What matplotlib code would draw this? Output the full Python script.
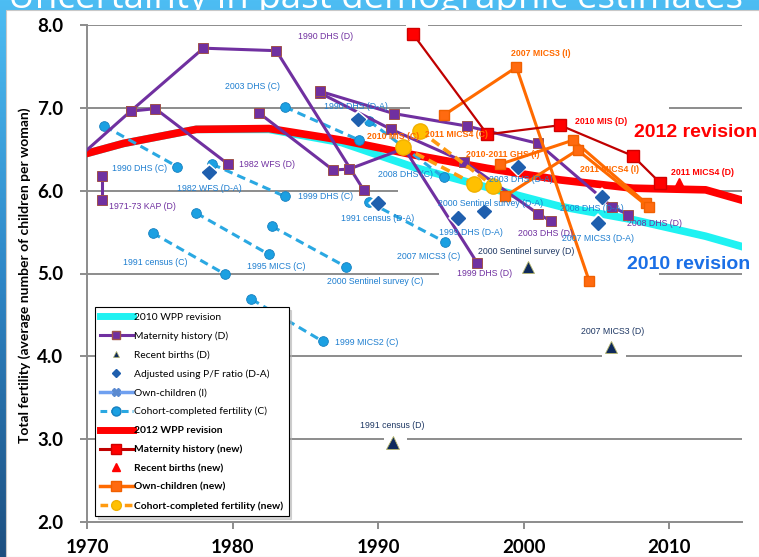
import matplotlib
matplotlib.use("Agg")
import matplotlib.pyplot as plt
import matplotlib.patheffects as pe
import numpy as np
from matplotlib.colors import LinearSegmentedColormap
from matplotlib.lines import Line2D
from matplotlib.patches import Rectangle

# WPP estimates (5-year periods, midpoints)
wpp_years = [1967.5, 1972.5, 1977.5, 1982.5, 1987.5, 1992.5, 1997.5, 2002.5, 2007.5, 2012.5, 2017.5]
wpp2012 = [6.33, 6.57, 6.74, 6.75, 6.61, 6.43, 6.27, 6.13, 6.03, 6.01, 5.76]
wpp2010 = [6.33, 6.57, 6.74, 6.74, 6.58, 6.28, 6.04, 5.81, 5.65, 5.45, 5.20]

# Maternity history (D)
mh_names = ['1971-73 KAP (D)', '1982 WFS (D)', '1990 DHS (D)', '1999 DHS (D)', '2003 DHS (D)', '2008 DHS (D)']
mh_years = [[1971.0, 1971.0],
            [1973.0, 1974.7, 1979.7],
            [1968.0, 1973.0, 1978.0, 1983.0, 1989.0],
            [1981.8, 1986.9, 1988.0, 1991.8, 1996.8],
            [1986.0, 1990.9, 1995.9, 2001.0, 2001.9],
            [1986.0, 1991.1, 1996.1, 2001.0, 2006.1, 2007.2]]
mh_tfr = [[6.18, 5.89],
          [6.96, 6.99, 6.32],
          [6.18, 6.96, 7.72, 7.69, 6.01],
          [6.94, 6.25, 6.26, 6.51, 5.13],
          [7.18, 6.74, 6.35, 5.72, 5.63],
          [7.20, 6.93, 6.78, 6.57, 5.80, 5.71]]

# Recent births (D)
rb_names = ['1991 census (D)', '2000 Sentinel survey (D)', '2007 MICS3 (D)']
rb_years = [1991.0, 2000.3, 2006.0]
rb_tfr = [2.96, 5.08, 4.11]

# Adjusted using P/F ratio (D-A)
pf_names = ['1982 WFS (D-A)', '1990 DHS (D-A)', '1991 census (D-A)', '1999 DHS (D-A)',
            '2000 Sentinel survey (D-A)', '2003 DHS (D-A)', '2008 DHS (D-A)', '2007 MICS3 (D-A)']
pf_years = [1978.4, 1988.6, 1990.0, 1995.5, 1997.3, 1999.6, 2005.4, 2005.1]
pf_tfr = [6.22, 6.86, 5.85, 5.67, 5.75, 6.29, 5.92, 5.61]

# Cohort-completed fertility (C)
cc_names = ['1990 DHS (C)', '1999 DHS (C)', '2003 DHS (C)', '2008 DHS (C)', '1991 census (C)',
            '1995 MICS (C)', '2000 Sentinel survey (C)', '2007 MICS3 (C)', '1999 MICS2 (C)']
cc_years = [[1971.2, 1976.2], [1978.6, 1983.6], [1983.6, 1988.7], [1989.4, 1994.5], [1974.5, 1979.5],
            [1977.5, 1982.5], [1982.7, 1987.8], [1989.4, 1994.6], [1981.3, 1986.2]]
cc_tfr = [[6.78, 6.29], [6.32, 5.93], [7.01, 6.61], [6.84, 6.16], [5.49, 4.99],
          [5.73, 5.23], [5.57, 5.08], [5.86, 5.38], [4.69, 4.18]]

# new data for the 2012 revision
mhn_names = ['2010 MIS (D)']
mhn_years = [[1992.4, 1997.5, 2002.5, 2007.5, 2009.4]]
mhn_tfr = [[7.89, 6.68, 6.79, 6.42, 6.09]]

rbn_names = ['2011 MICS4 (D)']
rbn_years = [2010.7]
rbn_tfr = [6.08]

oc_names = ['2007 MICS3 (I)', '2010-2011 GHS (I)', '2011 MICS4 (I)']
oc_years = [[1994.5, 1999.5, 2004.5], [1998.4, 2003.4, 2008.4], [1998.7, 2003.7, 2008.6]]
oc_tfr = [[6.91, 7.49, 4.91], [6.32, 6.61, 5.85], [5.93, 6.49, 5.80]]

ccn_names = ['2010 MIS (C)', '2011 MICS4 (C)']
ccn_years = [[1991.7, 1996.6], [1992.9, 1997.9]]
ccn_tfr = [[6.53, 6.08], [6.72, 6.06]]

# where each small label sits (year, tfr)
mh_lab = [(1973.8, 5.81), (1982.4, 6.32), (1986.4, 7.86), (1997.3, 5.00), (2001.5, 5.48), (2009.0, 5.60)]
rb_lab = [(1991.0, 3.16), (2000.2, 5.27), (2006.1, 4.30)]
pf_lab = [(1978.4, 6.03), (1988.5, 7.02), (1990.0, 5.66), (1996.4, 5.50),
          (1997.7, 5.85), (1999.8, 6.13), (2004.7, 5.78), (2005.1, 5.42)]
cc_lab = [(1973.6, 6.27), (1986.4, 5.93), (1981.4, 7.26), (1991.9, 6.19), (1974.7, 5.13),
          (1983.0, 5.09), (1989.8, 4.90), (1993.5, 5.20), (1989.2, 4.17)]
mhn_lab = [(2005.3, 6.84)]
rbn_lab = [(2012.3, 6.22)]
oc_lab = [(2001.2, 7.65), (1998.6, 6.44), (2005.9, 6.25)]
ccn_lab = [(1991.0, 6.65), (1995.4, 6.68)]

grid_levels = [3, 4, 5, 6, 7, 8]
grid_gaps = {8: [(1991.9, 1993.4)], 7: [(1992.2, 2010.0)], 6: [(1991.4, 2013.1)],
             5: [(1994.2, 2009.3)], 4: [(2005.4, 2007.0)], 3: [(1990.4, 1992.0)]}

PURPLE = '#7030a0'
BLUE = '#2aa8e2'
LABBLUE = '#1f7fd0'
NAVY = '#0f2a5c'
DIAM = '#1f5fae'
ORANGE = '#ff6a00'
GOLD = '#ffc000'
small = dict(fontsize=6.3, family='Liberation Sans', ha='center', va='center', zorder=12)

fig = plt.figure(figsize=(7.59, 5.57), dpi=100)

# slide background
bg = fig.add_axes([0, 0, 1, 1], zorder=-10)
bg.axis('off')
cmap = LinearSegmentedColormap.from_list('bg', ['#4dbdf3', '#2e86c6', '#1d4f80'])
bg.imshow(np.linspace(0, 1, 256).reshape(-1, 1), aspect='auto', cmap=cmap, extent=[0, 1, 0, 1])
bg.text(8 / 759, 1 - 8 / 557, 'Uncertainty in past demographic estimates', color='white',
        fontsize=26.5, family='Open Sans', ha='left', va='baseline', zorder=1)
bg.add_patch(Rectangle((6 / 759, 0), 1, 1 - 10 / 557, facecolor='white', edgecolor='#c8c8c8',
                       lw=0.8, zorder=2))
bg.set_xlim(0, 1)
bg.set_ylim(0, 1)

ax = fig.add_axes([87 / 759, 1 - 522 / 557, 655 / 759, 497 / 557])
ax.set_facecolor('none')
ax.set_xlim(1970, 2015)
ax.set_ylim(2, 8)

# gridlines with the gaps seen in the original
for lev in grid_levels:
    start = 1970
    for g0, g1 in grid_gaps.get(lev, []):
        ax.hlines(lev, start, g0, color='#8c8c8c', lw=1.4, zorder=0)
        start = g1
    ax.hlines(lev, start, 2015, color='#8c8c8c', lw=1.4, zorder=0)

ax.plot(wpp_years, wpp2010, color='#1ff2f2', lw=5.5, zorder=2, solid_capstyle='butt')
ax.plot(wpp_years, wpp2012, color='#ff0000', lw=5.5, zorder=3, solid_capstyle='butt')

for xs, ys in zip(cc_years, cc_tfr):
    ax.plot(xs, ys, color=BLUE, lw=2.2, dashes=(2.8, 1.7), marker='o', ms=7,
            mfc='#1ba0e2', mec='#1680c0', mew=0.6, zorder=4)

for xs, ys in zip(mh_years, mh_tfr):
    ax.plot(xs, ys, color=PURPLE, lw=2.2, marker='s', ms=7, mfc=PURPLE, mec='#a0524a',
            mew=0.7, zorder=5)

halo = [pe.withStroke(linewidth=3, foreground='white')]
ax.plot(pf_years, pf_tfr, ls='none', marker='D', ms=7, mfc=DIAM, mec=DIAM, zorder=6,
        path_effects=halo)
ax.plot(rb_years, rb_tfr, ls='none', marker='^', ms=9, mfc=NAVY, mec='#b5b56a', mew=0.6,
        zorder=6, path_effects=halo)

for xs, ys in zip(oc_years, oc_tfr):
    ax.plot(xs, ys, color=ORANGE, lw=2.2, marker='s', ms=7.5, mfc='#ff6a10', mec='#f06000',
            zorder=7)
for xs, ys in zip(ccn_years, ccn_tfr):
    ax.plot(xs, ys, color='#ff9a10', lw=2.6, dashes=(2.6, 1.4), marker='o', ms=11,
            mfc=GOLD, mec='#f0b000', zorder=8)
for xs, ys in zip(mhn_years, mhn_tfr):
    ax.plot(xs, ys, color='#c00000', lw=1.6, marker='s', ms=9, mfc='#ff0000', mec='#d00000',
            zorder=8)
ax.plot(rbn_years, rbn_tfr, ls='none', marker='^', ms=9, mfc='#ff0000', mec='#ff0000', zorder=8)

# small labels
for name, (x, y) in zip(mh_names, mh_lab):
    ax.text(x, y, name, color=PURPLE, **small)
for name, (x, y) in zip(rb_names, rb_lab):
    ax.text(x, y, name, color='#1f3864', **small)
for name, (x, y) in zip(pf_names, pf_lab):
    ax.text(x, y, name, color=LABBLUE, **small)
for name, (x, y) in zip(cc_names, cc_lab):
    ax.text(x, y, name, color=LABBLUE, **small)
for name, (x, y) in zip(mhn_names, mhn_lab):
    ax.text(x, y, name, color='#ff0000', fontweight='bold', **small)
for name, (x, y) in zip(rbn_names, rbn_lab):
    ax.text(x, y, name, color='#ff0000', fontweight='bold', **small)
for name, (x, y) in zip(oc_names, oc_lab):
    ax.text(x, y, name, color=ORANGE, fontweight='bold', **small)
for name, (x, y) in zip(ccn_names, ccn_lab):
    ax.text(x, y, name, color=ORANGE, fontweight='bold', **small)

ax.text(2011.8, 6.70, '2012 revision', color='#ff0000', fontsize=14, fontweight='bold',
        family='Liberation Sans', ha='center', va='center', zorder=12)
ax.text(2011.3, 5.11, '2010 revision', color='#1a6fe6', fontsize=14, fontweight='bold',
        family='Liberation Sans', ha='center', va='center', zorder=12)

# axes styling
for s in ['top', 'right']:
    ax.spines[s].set_visible(False)
for s in ['left', 'bottom']:
    ax.spines[s].set_color('#8c8c8c')
    ax.spines[s].set_linewidth(1.4)
ax.set_xticks([1970, 1980, 1990, 2000, 2010])
ax.set_yticks([2, 3, 4, 5, 6, 7, 8])
ax.set_yticklabels(['%.1f' % v for v in [2, 3, 4, 5, 6, 7, 8]])
ax.tick_params(axis='both', direction='out', length=5, width=1.4, color='#8c8c8c',
               labelsize=13.5)
ax.tick_params(axis='y', pad=12)
ax.tick_params(axis='x', pad=7)
for t in ax.get_xticklabels() + ax.get_yticklabels():
    t.set_fontweight('bold')
    t.set_family('Lato')
fig.text(25 / 759, 1 - 275 / 557, 'Total fertility (average number of children per woman)',
         rotation=90, ha='center', va='center', fontsize=10, fontweight='bold', family='Lato')

# legend
handles = [
    Line2D([], [], color='#1ff2f2', lw=5),
    Line2D([], [], color=PURPLE, lw=2.2, marker='s', ms=6, mfc=PURPLE, mec='#a0524a'),
    Line2D([], [], ls='none', marker='^', ms=5, mfc=NAVY, mec='#b5b56a', mew=0.5),
    Line2D([], [], ls='none', marker='D', ms=4.5, mfc=DIAM, mec=DIAM),
    Line2D([], [], color='#6fa0f0', lw=2.5, marker='X', ms=6, mfc='#5b8ad0', mec='#5b8ad0'),
    Line2D([], [], color=BLUE, lw=2.2, dashes=(2.2, 1.3), marker='o', ms=6.5, mfc='#1ba0e2',
           mec='#1680c0'),
    Line2D([], [], color='#ff0000', lw=5),
    Line2D([], [], color='#c00000', lw=2.2, marker='s', ms=7, mfc='#ff0000', mec='#d00000'),
    Line2D([], [], ls='none', marker='^', ms=6, mfc='#ff0000', mec='#ff0000'),
    Line2D([], [], color=ORANGE, lw=2.5, marker='s', ms=6.5, mfc='#ff6a10', mec='#f06000'),
    Line2D([], [], color='#ff9a10', lw=2.5, dashes=(2.2, 1.3), marker='o', ms=7, mfc=GOLD,
           mec='#f0b000'),
]
labels = ['2010 WPP revision', 'Maternity history (D)', 'Recent births (D)',
          'Adjusted using P/F ratio (D-A)', 'Own-children (I)', 'Cohort-completed fertility (C)',
          '2012 WPP revision', 'Maternity history (new)', 'Recent births (new)',
          'Own-children (new)', 'Cohort-completed fertility (new)']
leg = ax.legend(handles, labels, loc='lower left', bbox_to_anchor=(0.012, 0.012),
                prop={'family': 'Lato', 'size': 7.4}, handlelength=3.2, handletextpad=0.15,
                labelspacing=0.93, borderpad=0.5, borderaxespad=0, fancybox=False,
                framealpha=1, edgecolor='black', shadow={'color': '#b0b0b0'})
leg.get_frame().set_linewidth(0.8)
leg.set_zorder(20)
for t in leg.get_texts()[6:]:
    t.set_fontweight('bold')

fig.savefig('out.png', dpi=100)
